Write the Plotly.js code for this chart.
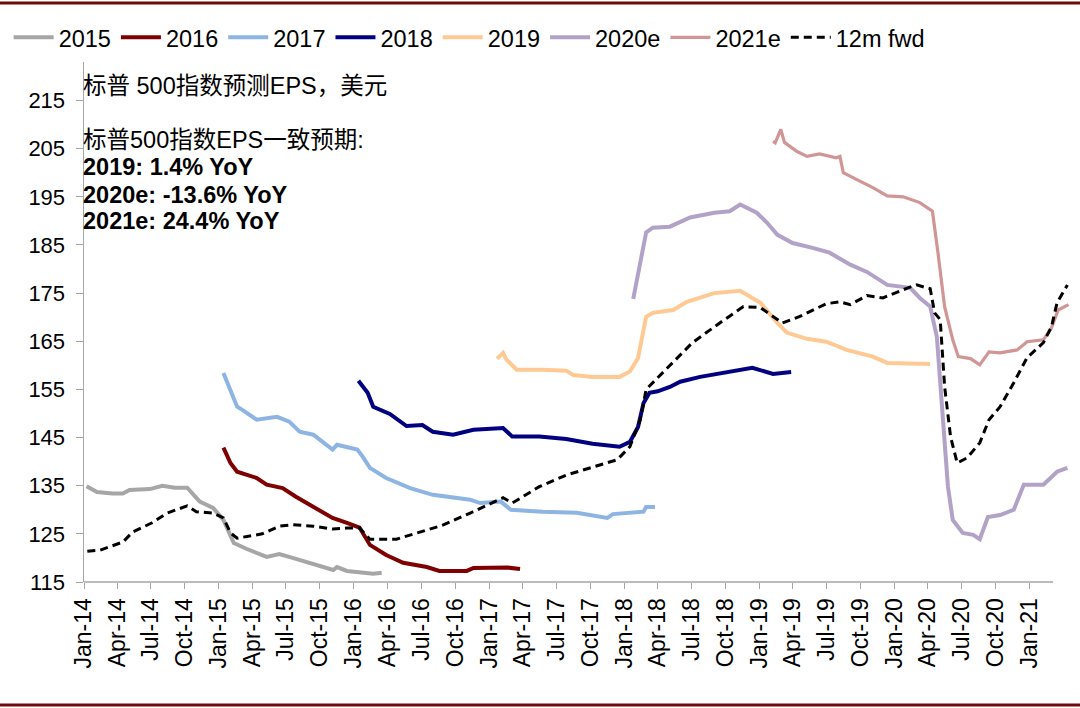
<!DOCTYPE html>
<html>
<head>
<meta charset="utf-8">
<script src="https://cdn.plot.ly/plotly-3.0.1.min.js"></script>
<style>html,body{margin:0;padding:0;background:#fff;}#chart{width:1080px;height:708px;}</style>
</head>
<body>
<div id="chart"></div>
<script>
// ---- data ----
const d2015 = ["2014-01-08","2014-02-05","2014-03-19","2014-04-16","2014-05-04","2014-06-28","2014-08-01","2014-09-04","2014-10-07","2014-11-10","2014-12-16","2015-01-13","2015-02-10","2015-03-16","2015-05-10","2015-06-13","2015-07-19","2015-09-13","2015-11-06","2015-11-16","2015-12-13","2016-02-22","2016-03-16"];
const v2015 = [134.9,133.7,133.4,133.4,134.1,134.3,135.0,134.6,134.6,131.7,130.4,127.9,123.1,121.9,120.2,120.8,120.0,118.7,117.5,118.1,117.3,116.7,116.9];

const d2016 = ["2015-01-13","2015-02-01","2015-02-19","2015-04-13","2015-05-10","2015-06-22","2015-07-28","2015-09-13","2015-11-04","2015-12-13","2016-01-16","2016-02-13","2016-03-28","2016-05-13","2016-07-16","2016-08-19","2016-11-01","2016-11-19","2017-02-19","2017-03-25"];
const v2016 = [142.9,139.7,137.9,136.6,135.2,134.5,132.7,130.6,128.3,127.3,126.3,122.7,120.6,119.0,118.1,117.3,117.3,117.9,118.0,117.7];

const d2017 = ["2015-01-13","2015-02-07","2015-02-19","2015-03-04","2015-04-13","2015-06-07","2015-07-10","2015-08-07","2015-09-13","2015-11-04","2015-11-16","2016-01-10","2016-01-25","2016-02-13","2016-03-28","2016-06-01","2016-08-01","2016-11-10","2016-12-07","2017-02-01","2017-02-28","2017-05-25","2017-08-25","2017-11-16","2017-12-01","2018-02-22","2018-03-01","2018-03-25"];
const v2017 = [158.4,153.5,151.4,150.8,148.7,149.3,148.3,146.2,145.6,142.5,143.5,142.5,141.0,138.7,136.6,134.5,133.1,132.1,131.4,131.7,130.0,129.6,129.4,128.3,129.1,129.6,130.6,130.6];

const d2018 = ["2016-01-13","2016-02-07","2016-02-22","2016-04-07","2016-05-22","2016-07-04","2016-08-01","2016-09-25","2016-11-19","2017-02-07","2017-03-04","2017-05-16","2017-07-28","2017-10-07","2017-12-19","2018-01-16","2018-02-07","2018-02-22","2018-03-10","2018-04-01","2018-05-04","2018-06-01","2018-07-25","2018-10-07","2018-12-13","2019-02-07","2019-03-28"];
const v2018 = [156.8,154.3,151.4,149.9,147.4,147.6,146.2,145.6,146.6,147.0,145.2,145.2,144.7,143.7,143.1,144.1,147.2,152.2,154.3,154.6,155.5,156.6,157.6,158.6,159.5,158.2,158.6];

const d2019 = ["2017-01-22","2017-02-07","2017-02-16","2017-03-16","2017-05-25","2017-07-28","2017-08-16","2017-10-07","2017-12-19","2018-01-16","2018-02-07","2018-02-16","2018-03-01","2018-03-19","2018-05-13","2018-06-19","2018-09-01","2018-11-10","2018-11-28","2019-01-04","2019-02-19","2019-03-16","2019-05-10","2019-07-01","2019-08-25","2019-11-04","2019-12-13","2020-02-13","2020-04-07"];
const v2019 = [161.4,162.6,161.2,159.1,159.1,158.9,158.0,157.6,157.6,158.7,161.5,165.3,170.1,170.9,171.5,173.2,175.0,175.5,174.7,173.0,168.8,166.8,165.5,164.9,163.2,161.8,160.5,160.5,160.3];

const d2020e = ["2018-01-25","2018-02-13","2018-03-01","2018-03-19","2018-05-04","2018-06-28","2018-09-01","2018-10-13","2018-11-10","2018-12-25","2019-01-22","2019-02-19","2019-04-01","2019-05-25","2019-07-10","2019-09-04","2019-10-19","2019-12-13","2020-01-25","2020-02-13","2020-03-10","2020-04-07","2020-04-25","2020-05-13","2020-05-25","2020-06-07","2020-07-04","2020-08-01","2020-08-19","2020-09-10","2020-10-13","2020-11-19","2020-12-16","2021-02-07","2021-03-16","2021-04-13"];
const v2020e = [173.8,181.3,187.6,188.6,188.8,190.7,191.7,192.0,193.4,191.7,189.6,187.1,185.4,184.4,183.4,180.9,179.4,176.7,176.3,176.1,174.0,172.2,165.9,148.7,134.8,127.9,125.2,124.8,123.9,128.5,128.9,130.0,135.2,135.2,137.9,138.7];

const d2021e = ["2019-02-07","2019-02-13","2019-02-28","2019-03-10","2019-04-13","2019-05-10","2019-06-13","2019-07-28","2019-08-07","2019-08-16","2019-10-01","2019-11-04","2019-12-13","2020-01-25","2020-03-10","2020-04-13","2020-04-28","2020-05-16","2020-06-07","2020-06-22","2020-07-25","2020-08-19","2020-09-13","2020-10-13","2020-11-28","2020-12-25","2021-02-07","2021-03-01","2021-03-19","2021-04-16"];
const v2021e = [206.5,206.2,209.0,206.3,204.4,203.4,203.9,203.1,203.4,200.0,198.2,196.9,195.2,195.0,193.8,192.0,183.4,172.2,165.3,161.8,161.4,160.1,162.8,162.6,163.2,164.9,165.3,167.8,171.5,172.6];

const dFwd = ["2014-01-10","2014-02-13","2014-04-16","2014-05-13","2014-07-04","2014-08-13","2014-10-07","2014-11-01","2014-12-16","2015-01-13","2015-02-01","2015-02-19","2015-04-28","2015-06-13","2015-07-19","2015-09-13","2015-11-04","2015-12-13","2016-01-16","2016-02-13","2016-04-25","2016-07-16","2016-08-28","2016-11-10","2017-02-07","2017-03-04","2017-05-16","2017-07-28","2017-10-07","2017-12-13","2018-01-16","2018-02-13","2018-03-01","2018-04-01","2018-04-25","2018-07-04","2018-09-16","2018-11-19","2019-01-04","2019-02-07","2019-03-04","2019-04-19","2019-07-01","2019-08-07","2019-09-04","2019-10-19","2019-12-01","2020-02-07","2020-03-01","2020-04-07","2020-04-19","2020-05-04","2020-05-16","2020-06-01","2020-06-19","2020-07-16","2020-08-19","2020-09-13","2020-10-13","2020-11-19","2020-12-25","2021-02-07","2021-03-01","2021-03-16","2021-04-13"];
const vFwd = [121.4,121.6,123.3,125.4,127.3,129.3,130.8,129.6,129.3,128.3,125.2,124.1,125.0,126.6,126.9,126.6,126.0,126.2,126.2,123.9,123.9,125.8,126.8,129.3,132.5,131.4,134.8,137.2,138.9,140.4,143.1,148.7,155.0,157.4,159.1,164.7,168.8,172.2,172.0,170.1,168.8,170.1,172.8,173.2,172.6,174.5,174.0,176.1,176.7,175.9,170.9,169.5,155.6,145.2,139.7,140.8,143.9,148.7,151.4,156.4,161.6,164.7,168.0,173.0,176.7];

const seriesNames = ["2015","2016","2017","2018","2019","2020e","2021e","12m fwd"];
const yTickVals = [115,125,135,145,155,165,175,185,195,205,215];
const xTickVals = ["2014-01-01","2014-04-01","2014-07-01","2014-10-01","2015-01-01","2015-04-01","2015-07-01","2015-10-01","2016-01-01","2016-04-01","2016-07-01","2016-10-01","2017-01-01","2017-04-01","2017-07-01","2017-10-01","2018-01-01","2018-04-01","2018-07-01","2018-10-01","2019-01-01","2019-04-01","2019-07-01","2019-10-01","2020-01-01","2020-04-01","2020-07-01","2020-10-01","2021-01-01"];
const noteTitle = "标普 500指数预测EPS，美元";
const noteSub = "标普500指数EPS一致预期:";
const noteLines = ["2019: 1.4% YoY","2020e: -13.6% YoY","2021e: 24.4% YoY"];

// ---- styling ----
const colors = ["#A6A6A6","#7F0000","#8DB4E2","#000080","#FFC993","#B3A2C7","#D09594","#000000"];
const FONT = "Liberation Sans, Arial, Noto Sans CJK SC, sans-serif";

function mk(i, x, y, w, dash) {
  return {type:"scatter", mode:"lines", name:seriesNames[i], x:x, y:y,
    line:{color:colors[i], width:w, dash:dash||"solid", shape:"linear"},
    hoverinfo:"x+y"};
}
const traces = [
  mk(0,d2015,v2015,4), mk(1,d2016,v2016,4), mk(2,d2017,v2017,4), mk(3,d2018,v2018,4),
  mk(4,d2019,v2019,4), mk(5,d2020e,v2020e,4), mk(6,d2021e,v2021e,3.2), mk(7,dFwd,vFwd,3,"8px,5px")
];

const L=84, R=10, T=62, B=126, W=1080, H=708;
const pw = W-L-R, ph = H-T-B;
const px2x = p => (p-L)/pw;
const py2y = p => (H-B-p)/ph;

const NF = 23.5;
const annotations = [];
annotations.push({xref:"paper",yref:"paper",x:px2x(81),y:py2y(86),xanchor:"left",yanchor:"middle",showarrow:false,text:noteTitle,font:{family:FONT,size:NF,color:"#000"}});
annotations.push({xref:"paper",yref:"paper",x:px2x(81),y:py2y(140),xanchor:"left",yanchor:"middle",showarrow:false,text:noteSub,font:{family:FONT,size:NF,color:"#000"}});
const ys=[167,195,221];
noteLines.forEach((t,i)=>annotations.push({xref:"paper",yref:"paper",x:px2x(81),y:py2y(ys[i]),xanchor:"left",yanchor:"middle",showarrow:false,text:"<b>"+t+"</b>",font:{family:FONT,size:NF,color:"#000"}}));

const layout = {
  width:W, height:H,
  margin:{l:L,r:R,t:T,b:B,pad:0},
  paper_bgcolor:"#fff", plot_bgcolor:"#fff",
  font:{family:FONT,size:22,color:"#000"},
  showlegend:true,
  legend:{orientation:"h", xref:"container", yref:"container", x:0.008, y:0.978, xanchor:"left", yanchor:"top",
    font:{family:FONT,size:23.5,color:"#000"}, bgcolor:"rgba(0,0,0,0)", itemwidth:40, traceorder:"normal"},
  xaxis:{type:"date", range:["2014-01-01","2021-04-20"], tickvals:xTickVals, tickformat:"%b-%y",
    tickangle:-90, ticks:"outside", ticklen:6, tickcolor:"#A6A6A6", showline:false,
    showgrid:false, zeroline:false, tickfont:{family:FONT,size:23,color:"#000"}},
  yaxis:{range:[115,223], tickvals:yTickVals, ticks:"outside", ticklen:7, tickcolor:"#A6A6A6", showline:true,
    linecolor:"#A6A6A6", linewidth:1.5, showgrid:false, zeroline:false, ticklabelstandoff:6,
    tickfont:{family:FONT,size:22,color:"#000"}},
  annotations:annotations,
  shapes:[
    {type:"line", xref:"paper", yref:"paper", x0:0, x1:px2x(1053), y0:0, y1:0, line:{color:"#A6A6A6", width:1.5}},
    {type:"line", xref:"paper", yref:"paper", x0:px2x(0), x1:px2x(W), y0:py2y(3), y1:py2y(3), line:{color:"#6E0A0A", width:3}},
    {type:"line", xref:"paper", yref:"paper", x0:px2x(0), x1:px2x(W), y0:py2y(705), y1:py2y(705), line:{color:"#6E0A0A", width:3}}
  ]
};
Plotly.newPlot("chart", traces, layout, {displayModeBar:false, staticPlot:true});
</script>
</body>
</html>
